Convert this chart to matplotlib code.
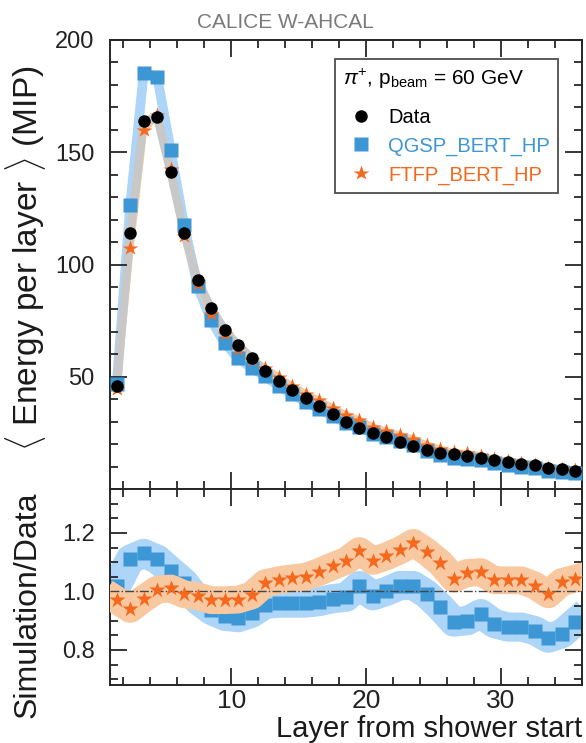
import numpy as np
import matplotlib
matplotlib.use("Agg")
import matplotlib.pyplot as plt
from matplotlib.ticker import MultipleLocator, FixedLocator

plt.rcParams['font.family'] = ['Liberation Sans', 'DejaVu Sans']
plt.rcParams['mathtext.fontset'] = 'custom'
plt.rcParams['mathtext.rm'] = 'Liberation Sans'
plt.rcParams['mathtext.it'] = 'Liberation Sans:italic'
plt.rcParams['mathtext.bf'] = 'Liberation Sans:bold'

# Layer centres (layer counted from the shower start)
layers = np.arange(1, 36) + 0.5

# Mean energy per layer in data (MIP)
energy_data = [46, 114, 164, 165.5, 141, 114, 93, 80.5, 71, 64,
               58.4, 52.5, 48, 44, 40.5, 37, 33.3, 30, 27, 25,
               23, 21, 19.1, 17.2, 16.2, 15.6, 14.9, 13.9, 12.9, 12.1,
               11.3, 10.6, 9.5, 8.8, 8.0]

# Simulation / data ratios
ratio_qgsp = [1.02, 1.11, 1.13, 1.11, 1.07, 1.03, 0.97, 0.935, 0.915, 0.91,
              0.925, 0.955, 0.96, 0.96, 0.96, 0.965, 0.975, 0.98, 1.02, 0.985,
              1.0, 1.02, 1.02, 0.99, 0.946, 0.895, 0.90, 0.924, 0.89, 0.878,
              0.878, 0.866, 0.84, 0.855, 0.895]
ratio_ftfp = [0.97, 0.94, 0.975, 1.006, 1.01, 0.99, 0.983, 0.97, 0.97, 0.972,
              0.986, 1.028, 1.038, 1.045, 1.05, 1.066, 1.086, 1.104, 1.138, 1.104,
              1.12, 1.14, 1.166, 1.135, 1.097, 1.044, 1.063, 1.066, 1.038, 1.038,
              1.038, 1.02, 0.99, 1.032, 1.044]

labels = ["Data", "QGSP_BERT_HP", "FTFP_BERT_HP"]
x_ticks = [10, 20, 30]
y_ticks_top = [50, 100, 150, 200]
y_ticks_bottom = [0.8, 1.0, 1.2]

energy_data = np.array(energy_data)
energy_qgsp = energy_data * np.array(ratio_qgsp)
energy_ftfp = energy_data * np.array(ratio_ftfp)

c_blue = '#3c97d4'
c_blue_band = '#acd5f7'
c_orange = '#f4691e'
c_orange_band = '#f8c9a1'
c_gray_band = '#c8c8c8'
c_frame = '#262626'

W, H = 586, 743
fig = plt.figure(figsize=(W / 100, H / 100), dpi=100)
ax1 = fig.add_axes([110 / W, 1 - 489 / H, 472 / W, 449 / H])
ax2 = fig.add_axes([110 / W, 1 - 685 / H, 472 / W, 196 / H])

# ---- upper panel: longitudinal profile ----
ax1.plot(layers, energy_qgsp, color=c_blue_band, lw=7, solid_joinstyle='round', zorder=1)
ax1.plot(layers, energy_ftfp, color=c_orange_band, lw=5, solid_joinstyle='round', zorder=1.1)
ax1.plot(layers, energy_data, color=c_gray_band, lw=6, solid_joinstyle='round', zorder=1.2)
h_q, = ax1.plot(layers, energy_qgsp, 's', color=c_blue, ms=9.5, mec='none', zorder=3, label=labels[1])
h_f, = ax1.plot(layers, energy_ftfp, '*', color=c_orange, ms=11.5, mec='none', zorder=4, label=labels[2])
h_d, = ax1.plot(layers, energy_data, 'o', color='black', ms=9, mec='none', zorder=5, label=labels[0])

ax1.set_xlim(1, 36)
ax1.set_ylim(0, 200)
ax1.yaxis.set_major_locator(FixedLocator(y_ticks_top))
ax1.yaxis.set_minor_locator(MultipleLocator(10))
ax1.xaxis.set_major_locator(FixedLocator(x_ticks))
ax1.xaxis.set_minor_locator(MultipleLocator(2))
ax1.set_xticklabels([])
ax1.set_yticklabels([str(v) for v in y_ticks_top])

leg = ax1.legend(handles=[h_d, h_q, h_f], loc='upper right',
                 bbox_to_anchor=((558 - 110) / 472, 1 - (59 - 40) / 449),
                 title=r'$\pi^{+}$, p$_{\mathrm{beam}}$ = 60 GeV',
                 title_fontsize=15, fontsize=14.5, frameon=True, fancybox=False,
                 edgecolor='#222222', borderpad=0.4, labelspacing=0.48,
                 handletextpad=0.45, handlelength=1.8, borderaxespad=0,
                 alignment='left', labelcolor=['black', c_blue, c_orange])
leg.get_frame().set_linewidth(1.3)
leg._legend_box.sep = 12

# ---- lower panel: simulation / data ----
ax2.plot(layers, ratio_qgsp, color=c_blue_band, lw=21, solid_joinstyle='round',
         solid_capstyle='projecting', zorder=1)
ax2.plot(layers, ratio_qgsp, 's', color=c_blue, ms=9.5, mec='none', zorder=2)
ax2.plot(layers, ratio_ftfp, color=c_orange_band, lw=20, solid_joinstyle='round',
         solid_capstyle='projecting', zorder=3)
ax2.axhline(1.0, color='#444444', lw=1.0, ls='-.', zorder=3.5)
ax2.plot(layers, ratio_ftfp, '*', color=c_orange, ms=12, mec='none', zorder=4)

ax2.set_xlim(1, 36)
ax2.set_ylim(0.68, 1.35)
ax2.yaxis.set_major_locator(FixedLocator(y_ticks_bottom))
ax2.yaxis.set_minor_locator(MultipleLocator(0.05))
ax2.xaxis.set_major_locator(FixedLocator(x_ticks))
ax2.xaxis.set_minor_locator(MultipleLocator(2))
ax2.set_yticklabels(['%.1f' % v for v in y_ticks_bottom])
ax2.set_xticklabels([str(v) for v in x_ticks])

for ax in (ax1, ax2):
    for sp in ax.spines.values():
        sp.set_linewidth(1.4)
        sp.set_color(c_frame)
    ax.tick_params(which='both', direction='in', top=True, right=True,
                   color=c_frame, width=1.3)
    ax.tick_params(which='major', length=12)
    ax.tick_params(which='minor', length=6)
    ax.tick_params(axis='y', labelsize=17, pad=11, labelcolor='#222222')
ax2.tick_params(axis='x', labelsize=19, pad=3, labelcolor='#222222')

# ---- titles and axis labels ----
fig.text(285 / W, 1 - 22 / H, 'CALICE W-AHCAL', color='#7a7a7a', fontsize=15,
         ha='center', va='center')
fig.text(26 / W, 1 - 258 / H, r'$\langle$ Energy per layer $\rangle$ (MIP)',
         rotation=90, fontsize=24, ha='center', va='center', color='#1a1a1a')
fig.text(28 / W, 1 - 605 / H, 'Simulation/Data', rotation=90, fontsize=23,
         ha='center', va='center', color='#1a1a1a')
fig.text(582 / W, 1 - 737 / H, 'Layer from shower start', fontsize=21,
         ha='right', va='baseline', color='#1a1a1a')

fig.savefig('out.png', dpi=100)
